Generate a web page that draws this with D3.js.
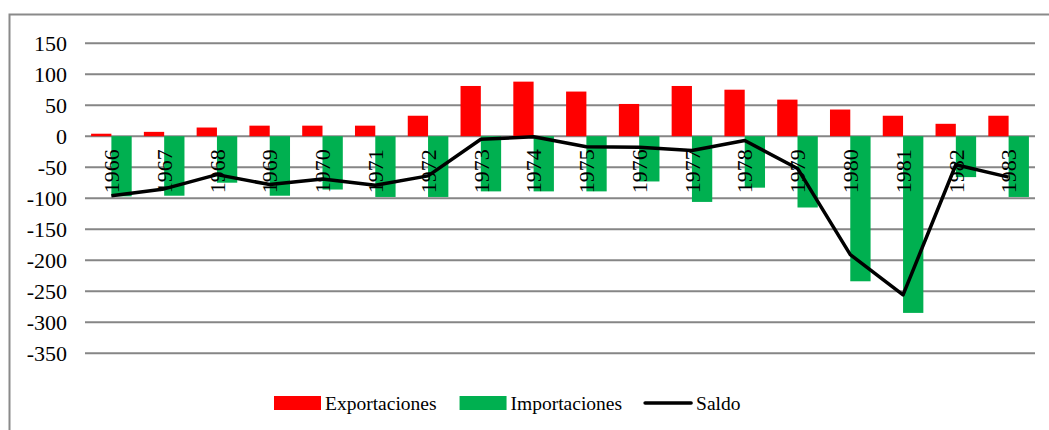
<!DOCTYPE html>
<html>
<head>
<meta charset="utf-8">
<script src="https://cdn.jsdelivr.net/npm/d3@7"></script>
<style>
  html, body { margin: 0; padding: 0; background: #fff; }
  svg { display: block; }
</style>
</head>
<body>
<svg id="chart" width="1049" height="430"></svg>
<script>
// Balanza comercial 1966-1983
const years = ["1966","1967","1968","1969","1970","1971","1972","1973","1974",
               "1975","1976","1977","1978","1979","1980","1981","1982","1983"];
const exportaciones = [4, 7, 14, 17, 17, 17, 33, 81, 88, 72, 52, 81, 75, 59, 43, 33, 20, 33];
const importaciones = [-97, -96, -75, -96, -86, -98, -98, -89, -89, -89, -73, -106, -83, -115, -234, -285, -66, -98];
const saldo = [-96, -85, -62, -78, -69, -79, -64, -5, -1, -17, -18, -23, -7, -52, -191, -256, -46, -66];
const yTicks = [150, 100, 50, 0, -50, -100, -150, -200, -250, -300, -350];
const seriesNames = ["Exportaciones", "Importaciones", "Saldo"];

const colors = { Exportaciones: "#ff0000", Importaciones: "#00b050", Saldo: "#000000" };
const gridColor = "#868686";
const serif = "'Liberation Serif', 'Times New Roman', 'DejaVu Serif', serif";

const svg = d3.select("#chart");
const plot = { left: 85, right: 1035, top: 43.2, bottom: 353.2 };

// outer chart frame (extends past the right and bottom edges)
svg.append("rect")
  .attr("x", 9.5).attr("y", 14.5)
  .attr("width", 1200).attr("height", 600)
  .attr("fill", "none").attr("stroke", "#8a8a8a").attr("stroke-width", 2);

const y = d3.scaleLinear().domain([-350, 150]).range([plot.bottom, plot.top]);
const x0 = d3.scaleBand().domain(years).range([plot.left, plot.right]).padding(0);
const x1 = d3.scaleBand().domain(["exp", "imp"])
  .range([0, x0.bandwidth()]).paddingInner(0).paddingOuter(0.3);

// horizontal gridlines
svg.append("g").selectAll("line").data(yTicks).join("line")
  .attr("x1", plot.left).attr("x2", plot.right)
  .attr("y1", d => y(d)).attr("y2", d => y(d))
  .attr("stroke", gridColor).attr("stroke-width", 2);

// y axis labels (plain hyphen for negatives)
const yAxis = d3.axisLeft(y).tickValues(yTicks).tickSize(0).tickPadding(0)
  .tickFormat(d => String(d));
const gy = svg.append("g").attr("transform", "translate(67,0)").call(yAxis)
  .attr("font-family", serif).attr("font-size", 22);
gy.select(".domain").remove();
gy.selectAll("text")
  .attr("font-family", serif).attr("font-size", 22).attr("fill", "#000");

// bars
const rows = years.map((yr, i) => ({ yr, exp: exportaciones[i], imp: importaciones[i], bal: saldo[i] }));
const groups = svg.append("g").selectAll("g").data(rows).join("g")
  .attr("transform", d => `translate(${x0(d.yr)},0)`);
groups.append("rect")
  .attr("x", x1("exp")).attr("width", x1.bandwidth())
  .attr("y", d => y(d.exp)).attr("height", d => y(0) - y(d.exp))
  .attr("fill", colors.Exportaciones);
groups.append("rect")
  .attr("x", x1("imp")).attr("width", x1.bandwidth())
  .attr("y", y(0)).attr("height", d => y(d.imp) - y(0))
  .attr("fill", colors.Importaciones);

// category labels, rotated, hanging just below the zero line
svg.append("g").selectAll("text").data(years).join("text")
  .attr("transform", d => `translate(${x0(d) + x0.bandwidth() / 2},${y(0) + 13}) rotate(-90)`)
  .attr("text-anchor", "end")
  .attr("dy", "0.35em")
  .attr("font-family", serif).attr("font-size", 22).attr("fill", "#000")
  .text(d => d);

// balance line
const line = d3.line()
  .x(d => x0(d.yr) + x0.bandwidth() / 2)
  .y(d => y(d.bal));
svg.append("path").datum(rows)
  .attr("d", line)
  .attr("fill", "none").attr("stroke", colors.Saldo)
  .attr("stroke-width", 3.5).attr("stroke-linejoin", "round");

// legend
const legend = svg.append("g").attr("transform", "translate(274,403)");
let lx = 0;
seriesNames.forEach(name => {
  const item = legend.append("g").attr("transform", `translate(${lx},0)`);
  if (name === "Saldo") {
    item.append("line").attr("x1", 0).attr("x2", 46).attr("y1", 0).attr("y2", 0)
      .attr("stroke", colors[name]).attr("stroke-width", 3.5).attr("stroke-linecap", "round");
  } else {
    item.append("rect").attr("x", 0).attr("y", -7).attr("width", 47).attr("height", 14)
      .attr("fill", colors[name]);
  }
  const t = item.append("text").attr("x", 51).attr("dy", "0.35em")
    .attr("font-family", serif).attr("font-size", 19.5).attr("fill", "#000")
    .text(name);
  lx += 51 + t.node().getComputedTextLength() + 23;
});
</script>
</body>
</html>
